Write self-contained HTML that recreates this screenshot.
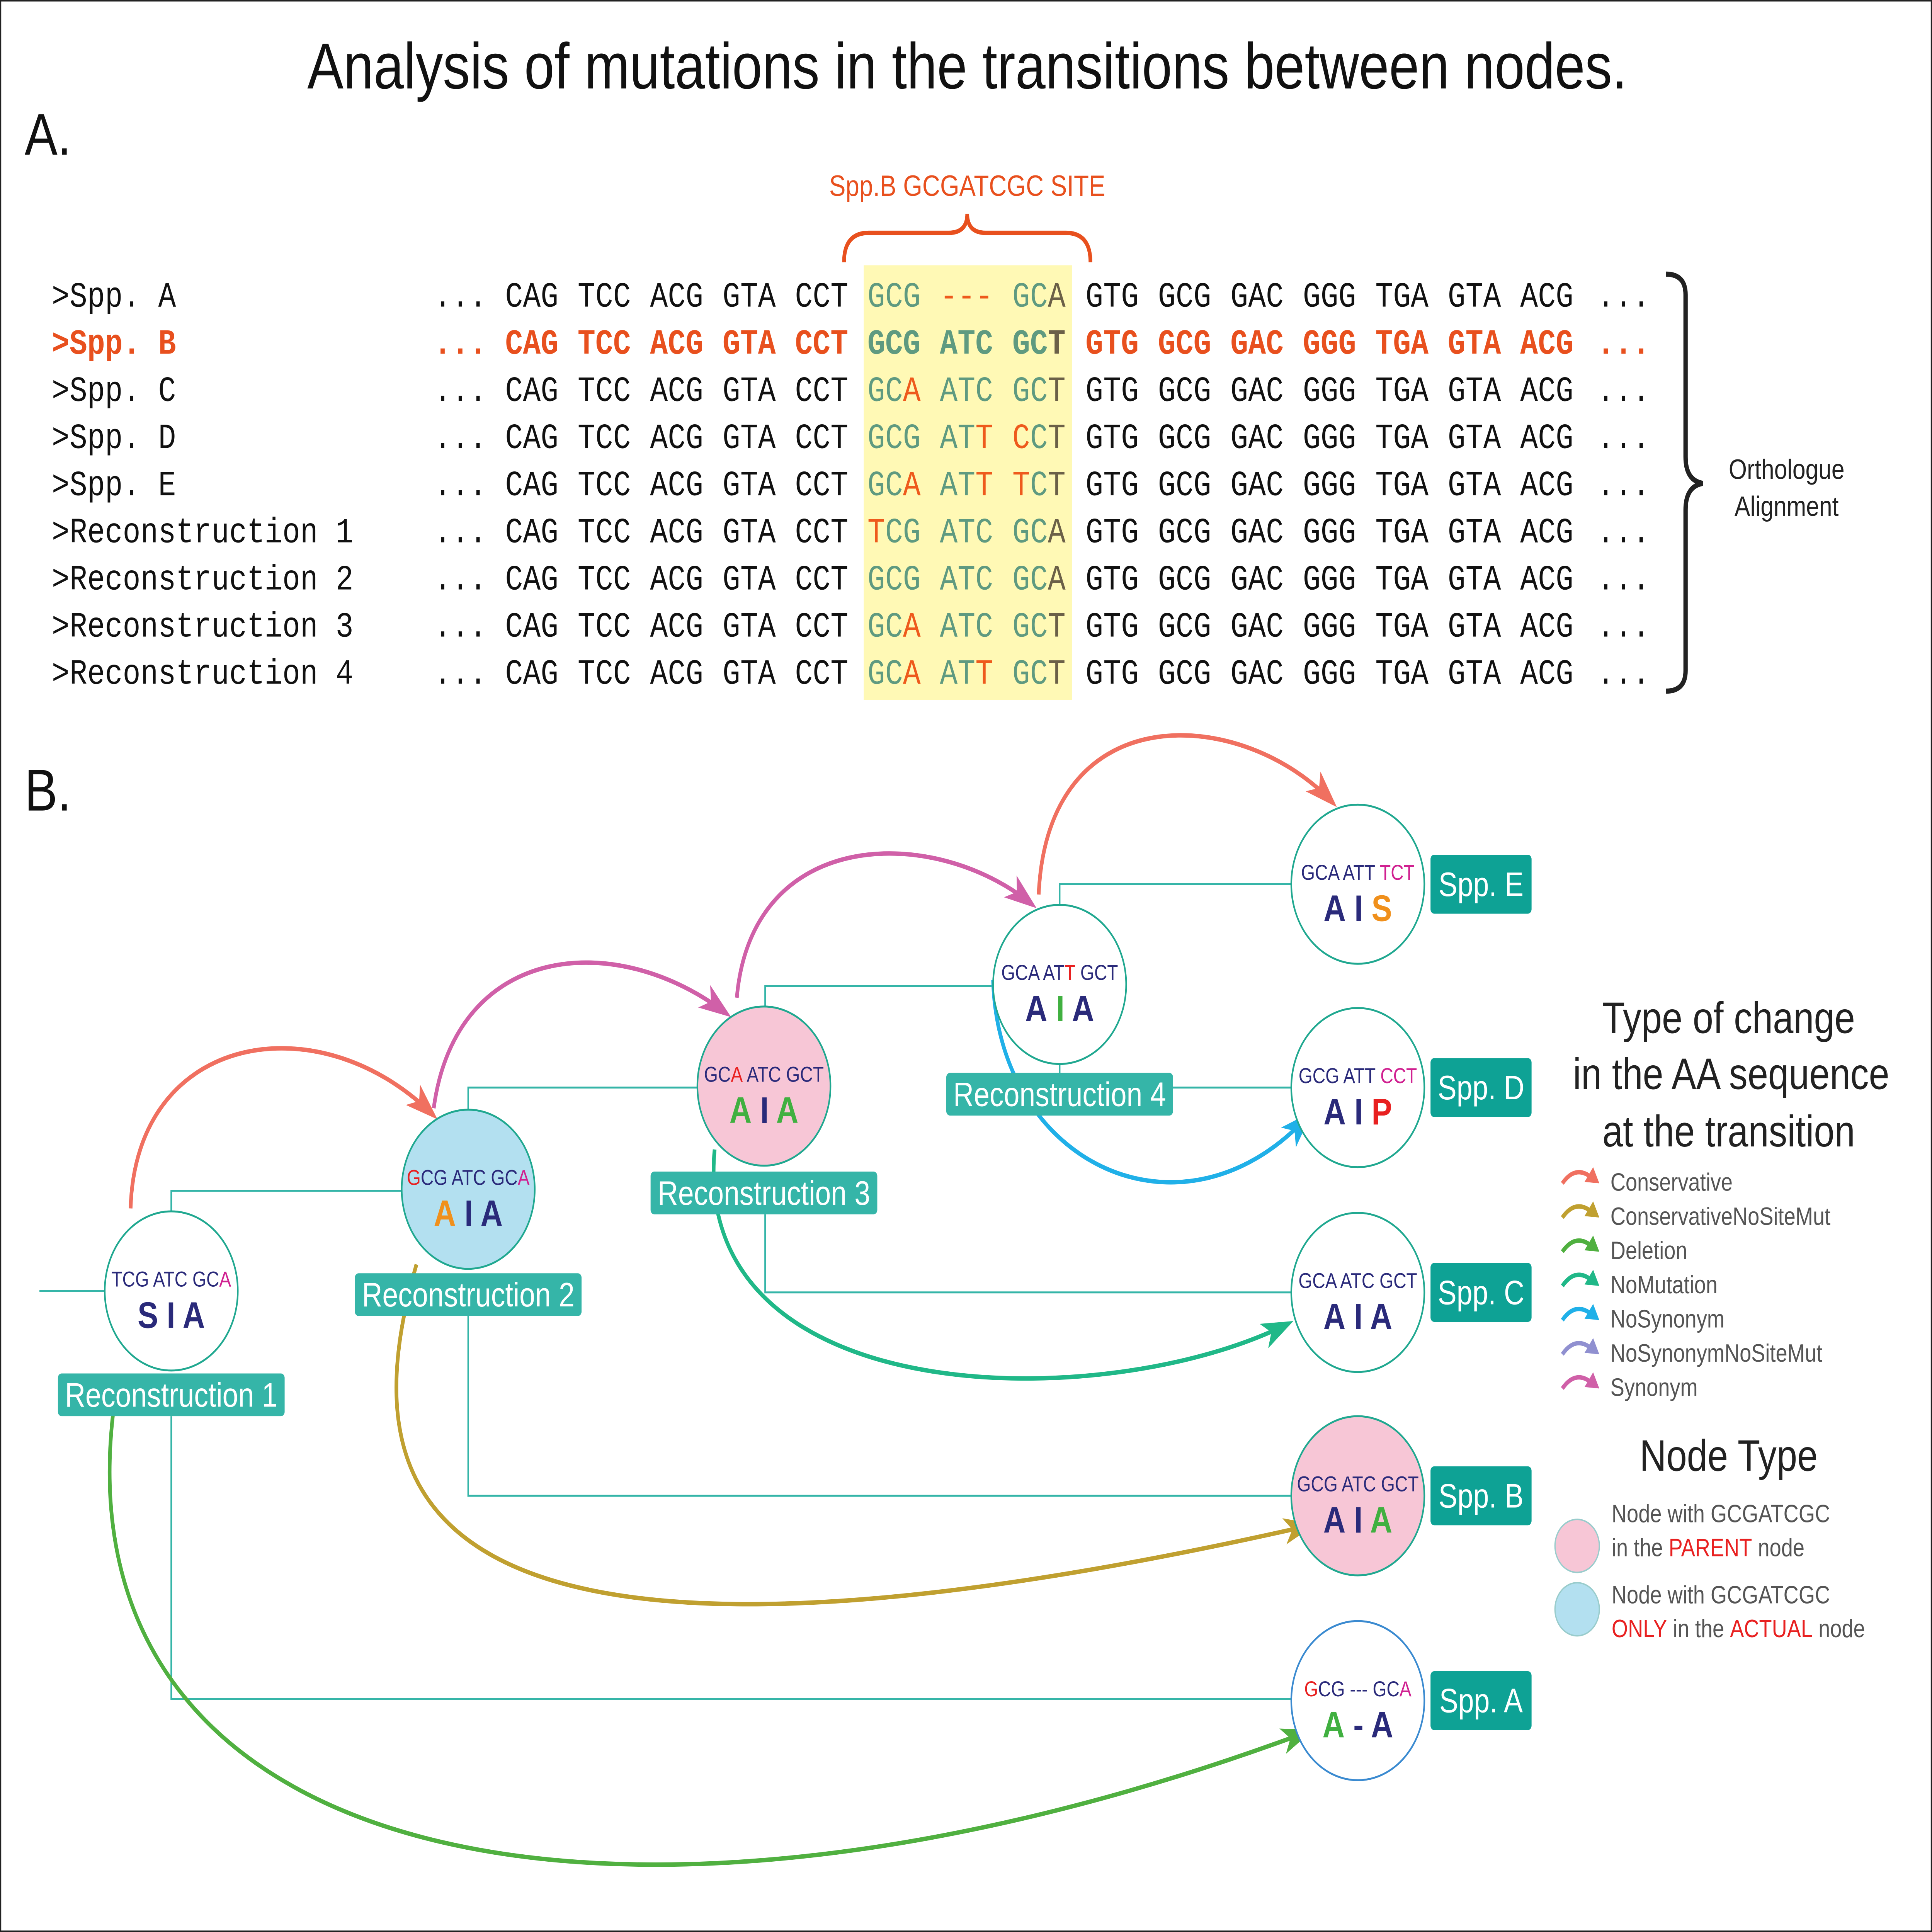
<!DOCTYPE html>
<html><head><meta charset="utf-8"><style>
html,body{margin:0;padding:0;background:#fff;width:100vw;height:100vh;overflow:hidden}
svg{display:block;position:absolute;left:0;top:0;width:100vw;height:100vh}
</style></head><body>
<svg xmlns="http://www.w3.org/2000/svg" viewBox="0 0 1568 1311" preserveAspectRatio="none" font-family="Liberation Sans, sans-serif">
<rect x="0.5" y="0.5" width="1567" height="1310" fill="#fff" stroke="#222" stroke-width="1"/>
<text x="785" y="60" font-size="44" text-anchor="middle" fill="#111">Analysis of mutations in the transitions between nodes.</text>
<text x="20" y="105" font-size="40" fill="#111">A.</text>
<text x="20" y="550" font-size="40" fill="#111">B.</text>

<g>
<text x="785" y="133" font-size="20" text-anchor="middle" fill="#e8501e">Spp.B GCGATCGC SITE</text>
<path d="M685 178 Q685 158 705 158 L770 158 Q785 158 785 145 Q785 158 800 158 L865 158 Q885 158 885 178" fill="none" stroke="#e8501e" stroke-width="3"/>
</g>
<rect x="701" y="180" width="169" height="295" fill="#fff9b5"/>
<g id="seqs" font-family="Liberation Mono, monospace" font-size="24"></g>
<path d="M1352 186 Q1368 186 1368 200 L1368 310 Q1368 326 1382 328 Q1368 330 1368 346 L1368 455 Q1368 469 1352 469" fill="none" stroke="#222" stroke-width="3.5"/>
<text x="1450" y="325" font-size="19" text-anchor="middle" fill="#222">Orthologue</text>
<text x="1450" y="350" font-size="19" text-anchor="middle" fill="#222">Alignment</text>

<g fill="none" stroke="#35b5a8" stroke-width="1.3">
<path d="M32 876 H85"/>
<path d="M139 822 V808 H326"/>
<path d="M139 961 V1153 H1048"/>
<path d="M380 753 V738 H566"/>
<path d="M380 893 V1015 H1048"/>
<path d="M621 683 V669 H806"/>
<path d="M621 824 V877 H1048"/>
<path d="M860 614 V600 H1048"/>
<path d="M860 722 V738 H1048"/>
</g>

<g id="arrows" fill="none" stroke-width="3"></g>
<g id="nodes"></g>

<g>
<text x="1403" y="701" font-size="30" text-anchor="middle" fill="#222">Type of change</text>
<text x="1405" y="739" font-size="30" text-anchor="middle" fill="#222">in the AA sequence</text>
<text x="1403" y="778" font-size="30" text-anchor="middle" fill="#222">at the transition</text>
<g id="legitems"></g>
<text x="1403" y="998" font-size="30" text-anchor="middle" fill="#222">Node Type</text>
<circle cx="1280" cy="1049" r="18" fill="#f7c6d6" stroke="#9cc" stroke-width="1"/>
<text x="1308" y="1033" font-size="17" fill="#555">Node with GCGATCGC</text>
<text x="1308" y="1056" font-size="17" fill="#555">in the <tspan fill="#e82020">PARENT</tspan> node</text>
<circle cx="1280" cy="1092" r="18" fill="#b3e0f0" stroke="#9cc" stroke-width="1"/>
<text x="1308" y="1088" font-size="17" fill="#555">Node with GCGATCGC</text>
<text x="1308" y="1111" font-size="17" fill="#555"><tspan fill="#e82020">ONLY</tspan> in the <tspan fill="#e82020">ACTUAL</tspan> node</text>
</g>
</svg>
<script>
const NS='http://www.w3.org/2000/svg';
const rowLabels=['>Spp. A','>Spp. B','>Spp. C','>Spp. D','>Spp. E','>Reconstruction 1','>Reconstruction 2','>Reconstruction 3','>Reconstruction 4'];
const siteCodons=[['GCG','---','GCA'],['GCG','ATC','GCT'],['GCA','ATC','GCT'],['GCG','ATT','CCT'],['GCA','ATT','TCT'],['TCG','ATC','GCA'],['GCG','ATC','GCA'],['GCA','ATC','GCT'],['GCA','ATT','GCT']];
const siteColors=[['ggg','rrr','ggd'],['ggg','ggg','ggd'],['ggr','ggg','ggd'],['ggg','ggr','rgd'],['ggr','ggr','rgd'],['rgg','ggg','ggd'],['ggg','ggg','ggd'],['ggr','ggg','ggd'],['ggr','ggr','ggd']];
const left=['CAG','TCC','ACG','GTA','CCT'];
const right=['GTG','GCG','GAC','GGG','TGA','GTA','ACG'];
const cmap={g:'#5f9a80',r:'#ee5a1c',d:'#6b6048'};
const seqs=document.getElementById('seqs');
function txt(p,x,y,s,fill,extra){const t=document.createElementNS(NS,'text');t.setAttribute('x',x);t.setAttribute('y',y);t.textContent=s;t.setAttribute('fill',fill);if(extra)for(const k in extra)t.setAttribute(k,extra[k]);p.appendChild(t);return t;}
rowLabels.forEach((lab,i)=>{
 const y=208+i*32, isB=i===1, base=isB?'#e8501e':'#111';
 const g=document.createElementNS(NS,'g');
 
 
 if(isB)g.setAttribute('font-weight','bold');
 seqs.appendChild(g);
 txt(g,42,y,lab,base);
 txt(g,352,y,'...',base);
 left.forEach((c,j)=>txt(g,410+j*58.8,y,c,base));
 siteCodons[i].forEach((c,j)=>{
  const t=txt(g,704+j*58.8,y,'',cmap.g);
  for(let k=0;k<3;k++){const s=document.createElementNS(NS,'tspan');s.setAttribute('fill',cmap[siteColors[i][j][k]]);s.textContent=c[k];t.appendChild(s);}
 });
 right.forEach((c,j)=>txt(g,881+j*58.8,y,c,base));
 txt(g,1296,y,'...',base);
});
const arrowDefs=[
 ['conservative-arrow','#f07060','M106 820 C110 700 260 680 352 757'],
 ['conservative-arrow','#f07060','M843 607 C850 470 1010 480 1082 545'],
 ['synonym-arrow','#d060a8','M352 752 C370 640 500 630 590 688'],
 ['synonym-arrow','#d060a8','M598 677 C610 560 760 560 838 614'],
 ['nosynonym-arrow','#20b0e8','M806 665 C810 790 960 850 1062 757'],
 ['nomutation-arrow','#20b888','M580 780 C560 960 900 960 1046 898'],
 ['conservativenositemut-arrow','#c0a030','M338 858 C290 1000 300 1180 1064 1035'],
 ['deletion-arrow','#50b040','M95 940 C30 1270 500 1350 1062 1175']
];
const ag=document.getElementById('arrows');
arrowDefs.forEach(a=>{
 const p=document.createElementNS(NS,'path');p.setAttribute('d',a[2]);p.setAttribute('stroke',a[1]);
 
 
 ag.appendChild(p);
 const nums=a[2].match(/-?\d+(\.\d+)?/g).map(Number);
 const ex=nums[6],ey=nums[7],cx=nums[4],cy=nums[5];
 let dx=ex-cx,dy=ey-cy;const L=Math.hypot(dx,dy);dx/=L;dy/=L;
 const px=-dy,py=dx,len=22,w=9;
 const h=document.createElementNS(NS,'path');
 h.setAttribute('d',`M${ex+dx*4} ${ey+dy*4} L${ex-dx*len+px*w} ${ey-dy*len+py*w} L${ex-dx*len*0.7} ${ey-dy*len*0.7} L${ex-dx*len-px*w} ${ey-dy*len-py*w} Z`);
 h.setAttribute('fill',a[1]);h.setAttribute('stroke','none');
 
 
 ag.appendChild(h);
});
const N='#2a2a7a',R='#e82020',O='#f0901c',G='#40b040',M='#d02090';
const nodes=[
 {n:'reconstruction-1',x:139,y:876,fill:'#fff',codon:[['TCG ATC GC',N],['A',M]],aa:[['S',N],['I',N],['A',N]],label:'Reconstruction 1',lx:47,ly:932},
 {n:'reconstruction-2',x:380,y:807,fill:'#b3e0f0',codon:[['G',R],['CG ATC GC',N],['A',M]],aa:[['A',O],['I',N],['A',N]],label:'Reconstruction 2',lx:288,ly:864},
 {n:'reconstruction-3',x:620,y:737,fill:'#f7c6d6',codon:[['GC',N],['A',R],[' ATC GCT',N]],aa:[['A',G],['I',N],['A',G]],label:'Reconstruction 3',lx:528,ly:795},
 {n:'reconstruction-4',x:860,y:668,fill:'#fff',codon:[['GCA AT',N],['T',R],[' GCT',N]],aa:[['A',N],['I',G],['A',N]],label:'Reconstruction 4',lx:768,ly:728},
 {n:'spp-e',x:1102,y:600,fill:'#fff',codon:[['GCA ATT ',N],['TCT',M]],aa:[['A',N],['I',N],['S',O]],label:'Spp. E'},
 {n:'spp-d',x:1102,y:738,fill:'#fff',codon:[['GCG ATT ',N],['CCT',M]],aa:[['A',N],['I',N],['P',R]],label:'Spp. D'},
 {n:'spp-c',x:1102,y:877,fill:'#fff',codon:[['GCA ATC GCT',N]],aa:[['A',N],['I',N],['A',N]],label:'Spp. C'},
 {n:'spp-b',x:1102,y:1015,fill:'#f7c6d6',codon:[['GCG ATC GCT',N]],aa:[['A',N],['I',N],['A',G]],label:'Spp. B'},
 {n:'spp-a',x:1102,y:1154,fill:'#fff',codon:[['G',R],['CG --- GC',N],['A',M]],aa:[['A',G],['-',N],['A',N]],label:'Spp. A',stroke:'#3a8ad0'}
];
const ng=document.getElementById('nodes');
nodes.forEach(d=>{
 const g=document.createElementNS(NS,'g');
 
 
 ng.appendChild(g);
 const c=document.createElementNS(NS,'circle');c.setAttribute('cx',d.x);c.setAttribute('cy',d.y);c.setAttribute('r',54);c.setAttribute('fill',d.fill);c.setAttribute('stroke',d.stroke||'#20a890');c.setAttribute('stroke-width',1.3);g.appendChild(c);
 const t=txt(g,d.x,d.y-3,'',N,{'font-size':'14.5','text-anchor':'middle'});
 d.codon.forEach(s=>{const sp=document.createElementNS(NS,'tspan');sp.setAttribute('fill',s[1]);sp.textContent=s[0];t.appendChild(sp);});
 const a=txt(g,d.x,d.y+25,'',N,{'font-size':'25','text-anchor':'middle','font-weight':'bold'});
 d.aa.forEach((s,i)=>{const sp=document.createElementNS(NS,'tspan');sp.setAttribute('fill',s[1]);sp.textContent=(i?' ':'')+s[0];a.appendChild(sp);});
 const r=document.createElementNS(NS,'rect');
 let lx,ly,w,h;
 if(d.lx!==undefined){lx=d.lx;ly=d.ly;w=184;h=29;}else{lx=1161;ly=d.y-20;w=82;h=40;}
 r.setAttribute('x',lx);r.setAttribute('y',ly);r.setAttribute('width',w);r.setAttribute('height',h);r.setAttribute('rx',3);r.setAttribute('fill',d.lx!==undefined?'#35b5a8':'#0ea295');
 
 
 g.appendChild(r);
 txt(g,lx+w/2,ly+h/2+8,d.label,'#fff',{'font-size':'23','text-anchor':'middle'});
});
const legNames=['Conservative','ConservativeNoSiteMut','Deletion','NoMutation','NoSynonym','NoSynonymNoSiteMut','Synonym'];
const legColors=['#f07060','#c0a030','#50b040','#20b888','#20b0e8','#9090d0','#d060a8'];
const lg=document.getElementById('legitems');
legNames.forEach((n,i)=>{
 const y=803+i*23.2;
 const g=document.createElementNS(NS,'g');
 
 
 lg.appendChild(g);
 const p=document.createElementNS(NS,'path');p.setAttribute('d',`M1268 ${y} Q1278 ${y-12} 1290 ${y-5}`);p.setAttribute('stroke',legColors[i]);p.setAttribute('stroke-width',3);p.setAttribute('fill','none');g.appendChild(p);
 const h=document.createElementNS(NS,'path');h.setAttribute('d',`M1298 ${y} L1286 ${y-1} L1293 ${y-11} Z`);h.setAttribute('fill',legColors[i]);g.appendChild(h);
 txt(g,1307,y+5,n,'#555',{'font-size':'17'});
});
</script>
</body></html>
